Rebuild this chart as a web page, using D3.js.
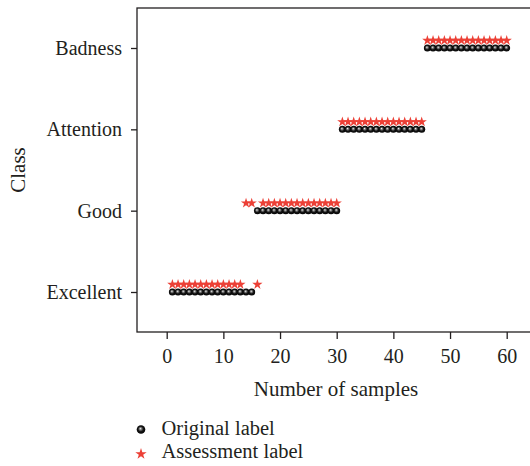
<!DOCTYPE html>
<html>
<head>
<meta charset="utf-8">
<script src="https://d3js.org/d3.v7.min.js"></script>
<style>
  body { margin: 0; background: #fff; }
  text { font-family: "Liberation Serif", "DejaVu Serif", serif; fill: #231f20; }
</style>
</head>
<body>
<div id="chart"></div>
<script>
// classes from bottom to top
var classes = ["Excellent", "Good", "Attention", "Badness"];
var xTicks = [0, 10, 20, 30, 40, 50, 60];

// original label of each sample (1..60)
var originalSamples = [1,2,3,4,5,6,7,8,9,10,11,12,13,14,15,
  16,17,18,19,20,21,22,23,24,25,26,27,28,29,30,
  31,32,33,34,35,36,37,38,39,40,41,42,43,44,45,
  46,47,48,49,50,51,52,53,54,55,56,57,58,59,60];
var originalClass = ["Excellent","Excellent","Excellent","Excellent","Excellent","Excellent","Excellent","Excellent","Excellent","Excellent","Excellent","Excellent","Excellent","Excellent","Excellent",
  "Good","Good","Good","Good","Good","Good","Good","Good","Good","Good","Good","Good","Good","Good","Good",
  "Attention","Attention","Attention","Attention","Attention","Attention","Attention","Attention","Attention","Attention","Attention","Attention","Attention","Attention","Attention",
  "Badness","Badness","Badness","Badness","Badness","Badness","Badness","Badness","Badness","Badness","Badness","Badness","Badness","Badness","Badness"];

// assessment label of each sample
var assessClass = ["Excellent","Excellent","Excellent","Excellent","Excellent","Excellent","Excellent","Excellent","Excellent","Excellent","Excellent","Excellent","Excellent","Good","Good",
  "Excellent","Good","Good","Good","Good","Good","Good","Good","Good","Good","Good","Good","Good","Good","Good",
  "Attention","Attention","Attention","Attention","Attention","Attention","Attention","Attention","Attention","Attention","Attention","Attention","Attention","Attention","Attention",
  "Badness","Badness","Badness","Badness","Badness","Badness","Badness","Badness","Badness","Badness","Badness","Badness","Badness","Badness","Badness"];

var width = 530, height = 466;
var box = {left: 137, top: 8, right: 531, bottom: 332};

var svg = d3.select("#chart").append("svg")
  .attr("width", width)
  .attr("height", height);

var defs = svg.append("defs");
var grad = defs.append("radialGradient")
  .attr("id", "ball")
  .attr("cx", "50%").attr("cy", "50%").attr("r", "55%")
  .attr("fx", "42%").attr("fy", "38%");
grad.append("stop").attr("offset", "0%").attr("stop-color", "#f4f4f4");
grad.append("stop").attr("offset", "22%").attr("stop-color", "#8a8a8a");
grad.append("stop").attr("offset", "55%").attr("stop-color", "#151515");
grad.append("stop").attr("offset", "100%").attr("stop-color", "#000000");

var x = d3.scaleLinear().domain([0, 60]).range([166.7, 506.7]);
var y = d3.scalePoint().domain(classes).range([292, 48]);

// frame
svg.append("rect")
  .attr("x", box.left).attr("y", box.top)
  .attr("width", box.right - box.left).attr("height", box.bottom - box.top)
  .attr("fill", "none").attr("stroke", "#231f20").attr("stroke-width", 1.3);

// x axis
var xAxis = svg.append("g")
  .attr("transform", "translate(0," + box.bottom + ")")
  .call(d3.axisBottom(x).tickValues(xTicks).tickSize(7).tickPadding(10));
xAxis.select(".domain").remove();
xAxis.selectAll("line").attr("stroke", "#231f20").attr("stroke-width", 1.3);
xAxis.selectAll("text").attr("font-size", 20).attr("font-family", null).style("fill", "#231f20");

// y axis
var yAxis = svg.append("g")
  .attr("transform", "translate(" + box.left + ",0)")
  .call(d3.axisLeft(y).tickSize(6).tickPadding(9));
yAxis.select(".domain").remove();
yAxis.selectAll("line").attr("stroke", "#231f20").attr("stroke-width", 1.3);
yAxis.selectAll("text").attr("font-size", 20).attr("font-family", null).style("fill", "#231f20");

// axis titles
svg.append("text")
  .attr("x", 336).attr("y", 396)
  .attr("text-anchor", "middle")
  .attr("font-size", 21)
  .text("Number of samples");

svg.append("text")
  .attr("transform", "translate(25,170) rotate(-90)")
  .attr("text-anchor", "middle")
  .attr("font-size", 21)
  .text("Class");

// original labels (balls)
svg.append("g").selectAll("circle")
  .data(originalSamples)
  .join("circle")
  .attr("cx", function(d) { return x(d); })
  .attr("cy", function(d, i) { return y(originalClass[i]); })
  .attr("r", 3.5)
  .attr("fill", "url(#ball)");

// assessment labels (stars), drawn slightly above
var star = d3.symbol().type(d3.symbolStar).size(33);
svg.append("g").selectAll("path")
  .data(originalSamples)
  .join("path")
  .attr("d", star)
  .attr("transform", function(d, i) { return "translate(" + x(d) + "," + (y(assessClass[i]) - 7.5) + ")"; })
  .attr("fill", "#ec4036");

// legend
var legend = svg.append("g");
legend.append("circle")
  .attr("cx", 141).attr("cy", 429.5).attr("r", 4.3)
  .attr("fill", "url(#ball)");
legend.append("text")
  .attr("x", 161.5).attr("y", 435)
  .attr("font-size", 20.5)
  .text("Original label");
legend.append("path")
  .attr("d", d3.symbol().type(d3.symbolStar).size(40))
  .attr("transform", "translate(141,454)")
  .attr("fill", "#ec4036");
legend.append("text")
  .attr("x", 161.5).attr("y", 458)
  .attr("font-size", 20.5)
  .text("Assessment label");
</script>
</body>
</html>
